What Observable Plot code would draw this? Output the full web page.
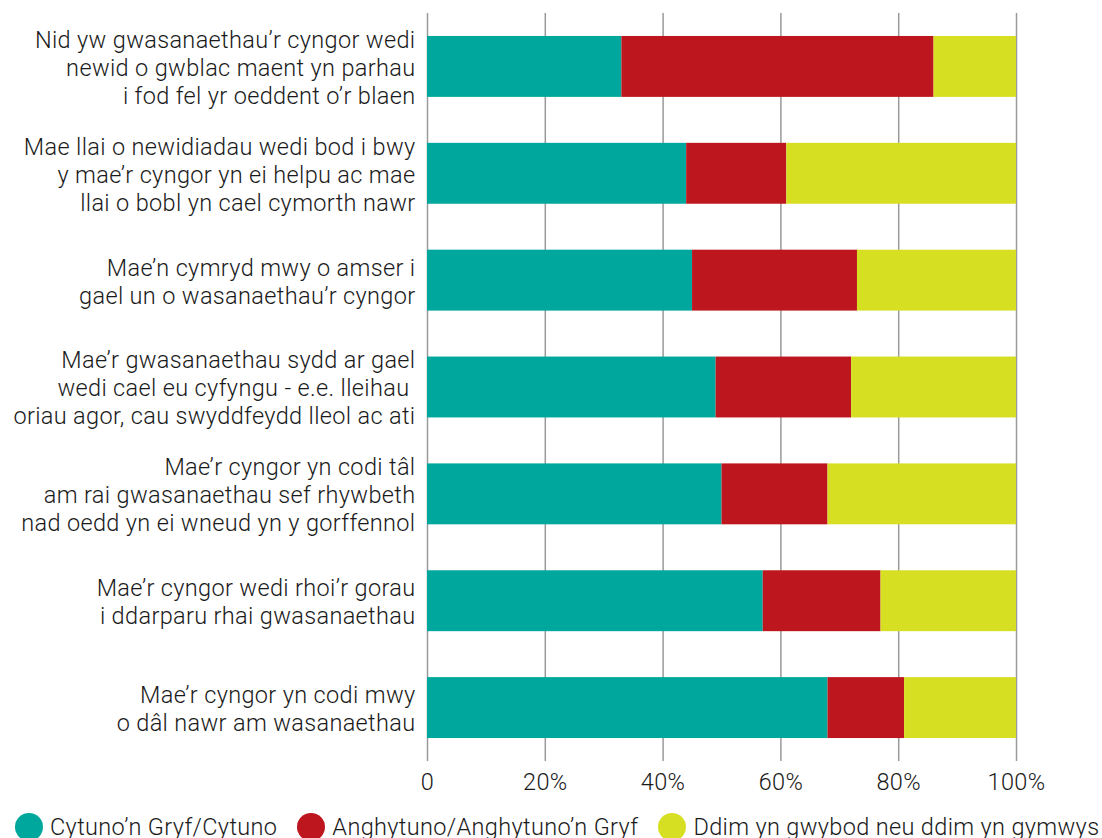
<!DOCTYPE html>
<html>
<head>
<meta charset="utf-8">
<script src="https://cdn.jsdelivr.net/npm/d3@7"></script>
<script src="https://cdn.jsdelivr.net/npm/@observablehq/plot@0.6"></script>
<style>
  html, body { margin: 0; padding: 0; background: #fff; }
  body { font-family: Roboto, "Liberation Sans", sans-serif; font-weight: 300; color: #1a1a1a; width: 1102px; height: 838px; overflow: hidden; }
  #legend { display: flex; align-items: center; height: 30px; padding-top: 4px; font-size: 23.5px; letter-spacing: 0.35px; white-space: nowrap; padding-left: 15px; }
  #legend .item { display: flex; align-items: center; margin-right: 20px; }
  #legend .sw { width: 28px; height: 28px; border-radius: 50%; margin-right: 7px; flex: none; }
</style>
</head>
<body>
<div id="chart"></div>
<div id="legend"></div>
<script>
const categories = [
  "Nid yw gwasanaethau’r cyngor wedi\nnewid o gwblac maent yn parhau\ni fod fel yr oeddent o’r blaen",
  "Mae llai o newidiadau wedi bod i bwy\ny mae’r cyngor yn ei helpu ac mae\nllai o bobl yn cael cymorth nawr",
  "Mae’n cymryd mwy o amser i\ngael un o wasanaethau’r cyngor",
  "Mae’r gwasanaethau sydd ar gael\nwedi cael eu cyfyngu - e.e. lleihau \noriau agor, cau swyddfeydd lleol ac ati",
  "Mae’r cyngor yn codi tâl\nam rai gwasanaethau sef rhywbeth\nnad oedd yn ei wneud yn y gorffennol",
  "Mae’r cyngor wedi rhoi’r gorau\ni ddarparu rhai gwasanaethau",
  "Mae’r cyngor yn codi mwy\no dâl nawr am wasanaethau"
];
const seriesNames = ["Cytuno’n Gryf/Cytuno", "Anghytuno/Anghytuno’n Gryf", "Ddim yn gwybod neu ddim yn gymwys"];
const seriesColors = ["#00a79d", "#be161e", "#d7df23"];
const agree    = [33, 44, 45, 49, 50, 57, 68];
const disagree = [53, 17, 28, 23, 18, 20, 13];
const dontKnow = [14, 39, 27, 28, 32, 23, 19];
const xTicks = [0, 20, 40, 60, 80, 100];
const xTickLabels = ["0", "20%", "40%", "60%", "80%", "100%"];

const values = [agree, disagree, dontKnow];
const data = [];
categories.forEach((c, i) => {
  seriesNames.forEach((s, j) => data.push({category: c, series: s, value: values[j][i]}));
});

const chart = Plot.plot({
  width: 1102,
  height: 808,
  marginLeft: 427,
  marginRight: 86,
  marginTop: 13,
  marginBottom: 47,
  style: {fontFamily: "Roboto, 'Liberation Sans', sans-serif", fontWeight: 300, fontSize: "23.5px", letterSpacing: "0.35px", color: "#1a1a1a", background: "#fff"},
  x: {domain: [0, 100], label: null},
  y: {domain: categories, paddingInner: 0.43, paddingOuter: 0.215, round: false, label: null},
  color: {domain: seriesNames, range: seriesColors},
  marks: [
    Plot.gridX(xTicks, {stroke: "#9a9a9a", strokeOpacity: 1, strokeWidth: 1.5}),
    Plot.barX(data, Plot.stackX({y: "category", x: "value", fill: "series", order: null})),
    Plot.axisX(xTicks, {tickSize: 0, tickPadding: 12, tickFormat: (d, i) => xTickLabels[i], fontSize: 23.5, fill: "#1a1a1a", label: null}),
    Plot.axisY({tickSize: 0, tickPadding: 12, lineHeight: 1.19, fontSize: 23.5, fill: "#1a1a1a", label: null})
  ]
});
document.getElementById("chart").appendChild(chart);

const legend = document.getElementById("legend");
seriesNames.forEach((s, j) => {
  const item = document.createElement("div");
  item.className = "item";
  const sw = document.createElement("span");
  sw.className = "sw";
  sw.style.background = seriesColors[j];
  const t = document.createElement("span");
  t.textContent = s;
  item.appendChild(sw);
  item.appendChild(t);
  legend.appendChild(item);
});
</script>
</body>
</html>
